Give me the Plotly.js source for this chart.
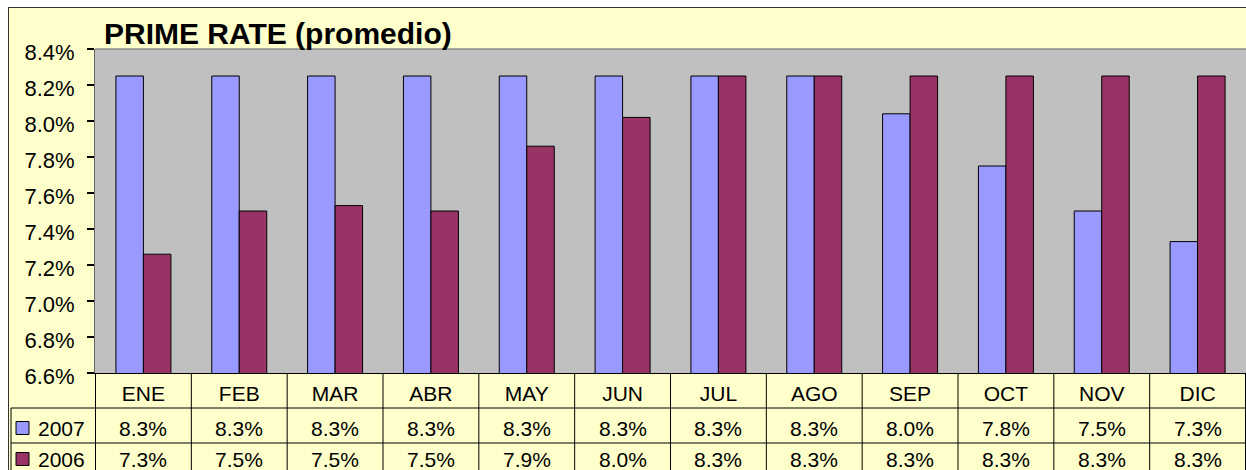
<!DOCTYPE html>
<html>
<head>
<meta charset="utf-8">
<script src="https://cdn.plot.ly/plotly-3.0.1.min.js"></script>
<style>
  html, body { margin: 0; padding: 0; background: #ffffff; width: 1246px; height: 470px; overflow: hidden; }
  #frame { position: absolute; left: 8px; top: 7px; width: 1250px; height: 470px; background: #FFFFCC; border-left: 1px solid #333; border-top: 1px solid #333; box-sizing: border-box; }
  #chart { position: absolute; left: 0; top: 0; width: 1246px; height: 470px; }
</style>
</head>
<body>
<div id="frame"></div>
<div id="chart"></div>
<script>
const months = ['ENE','FEB','MAR','ABR','MAY','JUN','JUL','AGO','SEP','OCT','NOV','DIC'];
const seriesNames = ['2007','2006'];
const rate2007 = [8.25, 8.25, 8.25, 8.25, 8.25, 8.25, 8.25, 8.25, 8.04, 7.75, 7.50, 7.33];
const rate2006 = [7.26, 7.50, 7.53, 7.50, 7.86, 8.02, 8.25, 8.25, 8.25, 8.25, 8.25, 8.25];
const chartTitle = 'PRIME RATE (promedio)';

const W = 1246, H = 470;
const mL = 95, mR = 0, mT = 49, mB = 97;
const plotW = W - mL - mR, plotH = H - mT - mB;
const px2x = p => (p - mL) / plotW;
const px2y = p => (H - mB - p) / plotH;

const FONT = 'Liberation Sans, Arial, sans-serif';
const colors = ['#9999FF', '#993366'];
const series = [rate2007, rate2006];

const traces = series.map((vals, i) => ({
  type: 'bar',
  name: seriesNames[i],
  x: months,
  y: vals,
  marker: { color: colors[i], line: { color: '#000000', width: 1 } },
  showlegend: false,
  hoverinfo: 'x+y+name'
}));

const shapes = [];
const annotations = [];
const lineStyle = { color: '#000000', width: 1 };

// top border of plot area
shapes.push({ type: 'line', xref: 'paper', yref: 'paper', x0: 0, x1: 1, y0: 1, y1: 1, line: { color: '#8a8a8a', width: 1.5 }, layer: 'above' });

// table grid: vertical lines between months
for (let k = 0; k <= months.length; k++) {
  shapes.push({ type: 'line', xref: 'x', yref: 'paper', x0: k - 0.5, x1: k - 0.5, y0: 0, y1: px2y(472), line: lineStyle });
}
// horizontal lines
[408, 443].forEach(py => {
  shapes.push({ type: 'line', xref: 'paper', yref: 'paper', x0: px2x(11), x1: 1, y0: px2y(py), y1: px2y(py), line: lineStyle });
});
// left edge of table
shapes.push({ type: 'line', xref: 'paper', yref: 'paper', x0: px2x(11), x1: px2x(11), y0: px2y(408), y1: px2y(472), line: lineStyle });

// rows
const rowY = [428, 459];
series.forEach((vals, i) => {
  // legend key
  shapes.push({ type: 'rect', xref: 'paper', yref: 'paper',
    x0: px2x(16), x1: px2x(29), y0: px2y(rowY[i] - 6.5), y1: px2y(rowY[i] + 6.5),
    fillcolor: colors[i], line: { color: '#000000', width: 1 } });
  annotations.push({ xref: 'paper', yref: 'paper', x: px2x(36), y: px2y(rowY[i]),
    xanchor: 'left', yanchor: 'middle', text: seriesNames[i], showarrow: false,
    font: { family: FONT, size: 21, color: '#000' } });
  vals.forEach((v, j) => {
    annotations.push({ xref: 'x', yref: 'paper', x: months[j], y: px2y(rowY[i]),
      xanchor: 'center', yanchor: 'middle', text: v.toFixed(1) + '%', showarrow: false,
      font: { family: FONT, size: 21, color: '#000' } });
  });
});

const layout = {
  width: W, height: H,
  margin: { l: mL, r: mR, t: mT, b: mB, pad: 0 },
  paper_bgcolor: 'rgba(0,0,0,0)',
  plot_bgcolor: '#C0C0C0',
  barmode: 'group',
  bargap: 0.426,
  bargroupgap: 0,
  title: { text: chartTitle, x: 104 / W, xanchor: 'left', xref: 'container',
           y: 1 - 33 / H, yanchor: 'middle', yref: 'container',
           font: { family: FONT, size: 30, color: '#000', weight: 'bold' } },
  xaxis: {
    type: 'category', showline: true, linecolor: '#000', linewidth: 1,
    ticks: '', showgrid: false, zeroline: false, fixedrange: true,
    tickfont: { family: FONT, size: 21, color: '#000' },
    ticklabelstandoff: 2
  },
  yaxis: {
    range: [6.6, 8.4], dtick: 0.2, tick0: 6.6, tickformat: '.1f', ticksuffix: '%',
    showline: true, linecolor: '#666', linewidth: 1,
    ticks: 'outside', ticklen: 7, tickcolor: '#000', tickwidth: 1.5,
    showgrid: false, zeroline: false, fixedrange: true,
    tickfont: { family: FONT, size: 22, color: '#000' },
    ticklabelstandoff: 8, ticklabelshift: 3
  },
  shapes: shapes,
  annotations: annotations,
  showlegend: false
};

Plotly.newPlot('chart', traces, layout, { displayModeBar: false, staticPlot: true });
</script>
</body>
</html>
